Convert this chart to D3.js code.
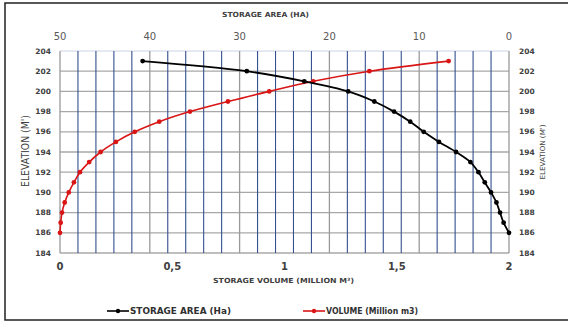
<!DOCTYPE html>
<html>
<head>
<meta charset="utf-8">
<script src="https://cdn.jsdelivr.net/npm/d3@7"></script>
<style>
  body { margin: 0; background: #fff; }
  svg { display: block; }
  text { font-family: "DejaVu Sans", sans-serif; }
</style>
</head>
<body>
<svg id="chart" width="568" height="322"></svg>
<script>
// data
const elevation = [186, 187, 188, 189, 190, 191, 192, 193, 194, 195, 196, 197, 198, 199, 200, 201, 202, 203];
const storageArea = [0, 0.6, 1.0, 1.4, 2.0, 2.7, 3.4, 4.3, 5.9, 7.8, 9.5, 11.0, 12.8, 15.0, 17.9, 22.8, 29.2, 40.8];
const storageVolume = [0, 0.003, 0.009, 0.021, 0.039, 0.062, 0.089, 0.13, 0.181, 0.249, 0.333, 0.442, 0.579, 0.748, 0.932, 1.128, 1.378, 1.731];

const elevTicks = [184, 186, 188, 190, 192, 194, 196, 198, 200, 202, 204];
const areaTicks = [50, 40, 30, 20, 10, 0];
const areaMinorTicks = d3.range(0, 51, 2);
const volumeTicks = [0, 0.5, 1, 1.5, 2];
const volumeLabels = ['0', '0,5', '1', '1,5', '2'];

const margin = { top: 51, left: 60, right: 59, bottom: 69 };
const totalWidth = 568, totalHeight = 322;
const chartWidth = totalWidth - margin.left - margin.right;
const chartHeight = totalHeight - margin.top - margin.bottom;

const svg = d3.select('#chart');

// outer frame (right edge runs off the picture)
svg.append('rect')
    .attr('x', 5).attr('y', 3)
    .attr('width', 600).attr('height', 317)
    .attr('fill', 'none').attr('stroke', '#222').attr('stroke-width', 1.5);

const xVol = d3.scaleLinear().domain([0, 2]).range([0, chartWidth]);
const xArea = d3.scaleLinear().domain([50, 0]).range([0, chartWidth]);
const y = d3.scaleLinear().domain([184, 204]).range([chartHeight, 0]);

const g = svg.append('g').attr('transform', 'translate(' + margin.left + ',' + margin.top + ')');

// horizontal grid
g.append('g').selectAll('line').data(elevTicks).join('line')
    .attr('x1', 0).attr('x2', chartWidth)
    .attr('y1', d => y(d)).attr('y2', d => y(d))
    .attr('stroke', d => d === 204 ? '#dde3ee' : '#a8a8a8')
    .attr('stroke-width', 1.3);

// minor vertical grid (area, every 2 ha)
g.append('g').selectAll('line').data(areaMinorTicks.filter(d => d % 10 !== 0)).join('line')
    .attr('x1', d => xArea(d)).attr('x2', d => xArea(d))
    .attr('y1', 0).attr('y2', chartHeight)
    .attr('stroke', '#34508f').attr('stroke-width', 1.1);

// major vertical grid (area, every 10 ha)
g.append('g').selectAll('line').data(areaTicks).join('line')
    .attr('x1', d => xArea(d)).attr('x2', d => xArea(d))
    .attr('y1', 0).attr('y2', chartHeight)
    .attr('stroke', '#9a9a9a').attr('stroke-width', 1.3);

// left / right elevation labels
const tickFont = { size: 7.5, color: '#404040' };
g.append('g').selectAll('text').data(elevTicks).join('text')
    .attr('x', -9).attr('y', d => y(d) + 2.6)
    .attr('text-anchor', 'end')
    .attr('font-size', tickFont.size).attr('font-weight', 'bold').attr('fill', tickFont.color)
    .text(d => d);
g.append('g').selectAll('text').data(elevTicks).join('text')
    .attr('x', chartWidth + 10).attr('y', d => y(d) + 2.6)
    .attr('text-anchor', 'start')
    .attr('font-size', tickFont.size).attr('font-weight', 'bold').attr('fill', tickFont.color)
    .text(d => d);

// top area labels
g.append('g').selectAll('text').data(areaTicks).join('text')
    .attr('x', d => xArea(d)).attr('y', -11)
    .attr('text-anchor', 'middle')
    .attr('font-size', 10).attr('fill', '#595959')
    .text(d => d);

// bottom volume labels
g.append('g').selectAll('text').data(volumeTicks).join('text')
    .attr('x', d => xVol(d)).attr('y', chartHeight + 17)
    .attr('text-anchor', 'middle')
    .attr('font-size', 10).attr('font-weight', 'bold').attr('fill', '#404040')
    .text((d, i) => volumeLabels[i]);

// axis titles
svg.append('text')
    .attr('x', 265.5).attr('y', 17)
    .attr('text-anchor', 'middle')
    .attr('font-size', 7).attr('font-weight', 'bold').attr('fill', '#404040')
    .attr('textLength', 87).attr('lengthAdjust', 'spacingAndGlyphs')
    .text('STORAGE AREA (HA)');
svg.append('text')
    .attr('x', 283.5).attr('y', 283)
    .attr('text-anchor', 'middle')
    .attr('font-size', 7).attr('font-weight', 'bold').attr('fill', '#404040')
    .attr('textLength', 141).attr('lengthAdjust', 'spacingAndGlyphs')
    .text('STORAGE VOLUME (MILLION M³)');
svg.append('text')
    .attr('transform', 'translate(29,151) rotate(-90)')
    .attr('text-anchor', 'middle')
    .attr('font-size', 10).attr('fill', '#404040')
    .attr('textLength', 72).attr('lengthAdjust', 'spacingAndGlyphs')
    .text("ELEVATION (M')");
svg.append('text')
    .attr('transform', 'translate(545,152) rotate(-90)')
    .attr('text-anchor', 'middle')
    .attr('font-size', 7).attr('fill', '#404040')
    .attr('textLength', 55).attr('lengthAdjust', 'spacingAndGlyphs')
    .text("ELEVATION (M')");

// series
const areaPts = elevation.map((e, i) => [xArea(storageArea[i]), y(e)]);
const volPts = elevation.map((e, i) => [xVol(storageVolume[i]), y(e)]);
const line = d3.line().curve(d3.curveCatmullRom.alpha(0.5));

g.append('path').attr('d', line(volPts))
    .attr('fill', 'none').attr('stroke', '#d91515').attr('stroke-width', 1.6);
g.append('g').selectAll('circle').data(volPts).join('circle')
    .attr('cx', d => d[0]).attr('cy', d => d[1]).attr('r', 2.4)
    .attr('fill', '#d91515');

g.append('path').attr('d', line(areaPts))
    .attr('fill', 'none').attr('stroke', '#000').attr('stroke-width', 1.8);
g.append('g').selectAll('circle').data(areaPts).join('circle')
    .attr('cx', d => d[0]).attr('cy', d => d[1]).attr('r', 2.4)
    .attr('fill', '#000');

// legend
const legend = [
    { label: 'STORAGE AREA (Ha)', color: '#000', x: 107, size: 9.5, len: 101 },
    { label: 'VOLUME (Million m3)', color: '#d91515', x: 303, size: 8, len: 92 }
];
const lg = svg.append('g').selectAll('g').data(legend).join('g')
    .attr('transform', d => 'translate(' + d.x + ',311)');
lg.append('line').attr('x1', 0).attr('x2', 22).attr('y1', 0).attr('y2', 0)
    .attr('stroke', d => d.color).attr('stroke-width', 1.6);
lg.append('circle').attr('cx', 11).attr('r', 2.2).attr('fill', d => d.color);
lg.append('text')
    .attr('x', 23).attr('y', d => d.size * 0.36)
    .attr('font-size', d => d.size).attr('font-weight', 'bold').attr('fill', '#303030')
    .attr('textLength', d => d.len).attr('lengthAdjust', 'spacingAndGlyphs')
    .text(d => d.label);
</script>
</body>
</html>
